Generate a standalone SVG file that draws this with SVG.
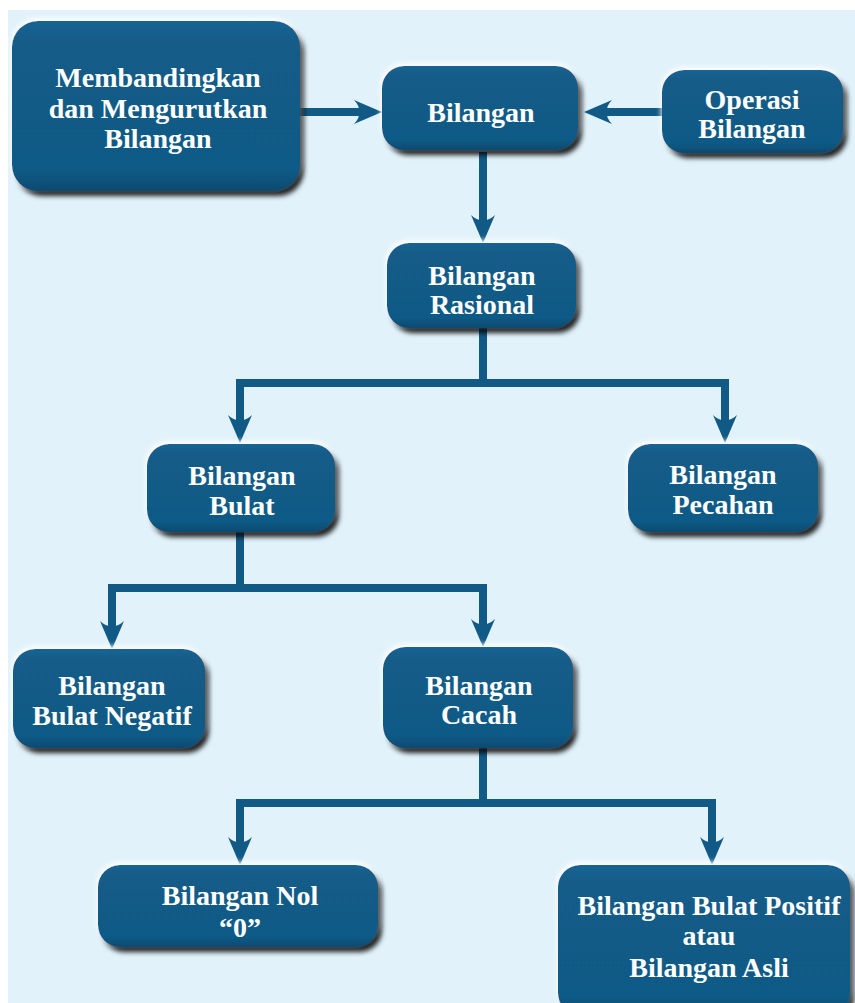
<svg xmlns="http://www.w3.org/2000/svg" width="855" height="1003" viewBox="0 0 855 1003">
  <defs>
    <filter id="sh" x="-20%" y="-30%" width="140%" height="160%">
      <feGaussianBlur in="SourceAlpha" stdDeviation="2.5" result="b"/>
      <feOffset in="b" dx="4" dy="5" result="o"/>
      <feFlood flood-color="#000000" flood-opacity="0.85"/>
      <feComposite in2="o" operator="in" result="s"/>
      <feOffset in="b" dx="-1" dy="-3" result="o2"/>
      <feFlood flood-color="#ffffff" flood-opacity="0.9"/>
      <feComposite in2="o2" operator="in" result="w"/>
      <feMerge>
        <feMergeNode in="w"/>
        <feMergeNode in="s"/>
        <feMergeNode in="SourceGraphic"/>
      </feMerge>
    </filter>
    <linearGradient id="bev" x1="0" y1="0" x2="0" y2="1">
      <stop offset="0" stop-color="#1a6594"/>
      <stop offset="0.12" stop-color="#125b88"/>
      <stop offset="0.88" stop-color="#115a86"/>
      <stop offset="1" stop-color="#0c4a70"/>
    </linearGradient>
    <marker id="ah" markerUnits="userSpaceOnUse" markerWidth="30" markerHeight="24" refX="13" refY="12" orient="auto" overflow="visible">
      <path d="M28,12 L0,0 Q6,6 5,12 Q6,18 0,24 Z" fill="#115a86"/>
    </marker>
  </defs>
  <style>
    .box { fill: url(#bev); filter: url(#sh); }
    .lbl { font-family: "Liberation Serif", "Times New Roman", serif; font-weight: bold; font-size: 28px; fill: #ffffff; text-anchor: middle; }
    .con { fill: none; stroke: #115a86; stroke-width: 8; }
    .arr { fill: none; stroke: #115a86; stroke-width: 8; marker-end: url(#ah); }
  </style>
  <rect x="8" y="10" width="847" height="993" fill="#e1f2fa"/>

  <g id="connectors">
    <path class="arr" d="M300,112 L367,112"/>
    <path class="arr" d="M662,112 L599,112"/>
    <path class="arr" d="M483,152 L483,228"/>
    <path class="con" d="M483,328 L483,383"/>
    <path class="con" d="M236,383 L729,383"/>
    <path class="arr" d="M240,379 L240,428"/>
    <path class="arr" d="M725,379 L725,428"/>
    <path class="con" d="M240,532 L240,588"/>
    <path class="con" d="M108,588 L487,588"/>
    <path class="arr" d="M112,584 L112,634"/>
    <path class="arr" d="M483,584 L483,632"/>
    <path class="con" d="M483,748 L483,803"/>
    <path class="con" d="M236,803 L716,803"/>
    <path class="arr" d="M240,799 L240,850"/>
    <path class="arr" d="M712,799 L712,850"/>
  </g>

  <g id="n-membandingkan">
    <rect class="box" x="12" y="21" width="288" height="170" rx="26"/>
    <text class="lbl" x="158" y="87">Membandingkan</text>
    <text class="lbl" x="158" y="118">dan Mengurutkan</text>
    <text class="lbl" x="158" y="148">Bilangan</text>
  </g>
  <g id="n-bilangan">
    <rect class="box" x="382" y="66" width="196" height="84" rx="22"/>
    <text class="lbl" x="481" y="122">Bilangan</text>
  </g>
  <g id="n-operasi">
    <rect class="box" x="662" y="70" width="181" height="83" rx="22"/>
    <text class="lbl" x="752" y="109">Operasi</text>
    <text class="lbl" x="752" y="138">Bilangan</text>
  </g>
  <g id="n-rasional">
    <rect class="box" x="387" y="243" width="189" height="85" rx="22"/>
    <text class="lbl" x="482" y="285">Bilangan</text>
    <text class="lbl" x="482" y="314">Rasional</text>
  </g>
  <g id="n-bulat">
    <rect class="box" x="147" y="444" width="188" height="88" rx="22"/>
    <text class="lbl" x="242" y="485">Bilangan</text>
    <text class="lbl" x="242" y="515">Bulat</text>
  </g>
  <g id="n-pecahan">
    <rect class="box" x="628" y="444" width="190" height="88" rx="22"/>
    <text class="lbl" x="723" y="484">Bilangan</text>
    <text class="lbl" x="723" y="514">Pecahan</text>
  </g>
  <g id="n-negatif">
    <rect class="box" x="13" y="649" width="192" height="99" rx="22"/>
    <text class="lbl" x="112" y="695">Bilangan</text>
    <text class="lbl" x="112" y="725">Bulat Negatif</text>
  </g>
  <g id="n-cacah">
    <rect class="box" x="383" y="647" width="190" height="101" rx="22"/>
    <text class="lbl" x="479" y="695">Bilangan</text>
    <text class="lbl" x="479" y="724">Cacah</text>
  </g>
  <g id="n-nol">
    <rect class="box" x="98" y="865" width="280" height="82" rx="22"/>
    <text class="lbl" x="240" y="905">Bilangan Nol</text>
    <text class="lbl" x="240" y="937">“0”</text>
  </g>
  <g id="n-positif">
    <rect class="box" x="558" y="865" width="292" height="150" rx="22"/>
    <text class="lbl" x="709" y="915">Bilangan Bulat Positif</text>
    <text class="lbl" x="709" y="945">atau</text>
    <text class="lbl" x="709" y="977">Bilangan Asli</text>
  </g>
</svg>
